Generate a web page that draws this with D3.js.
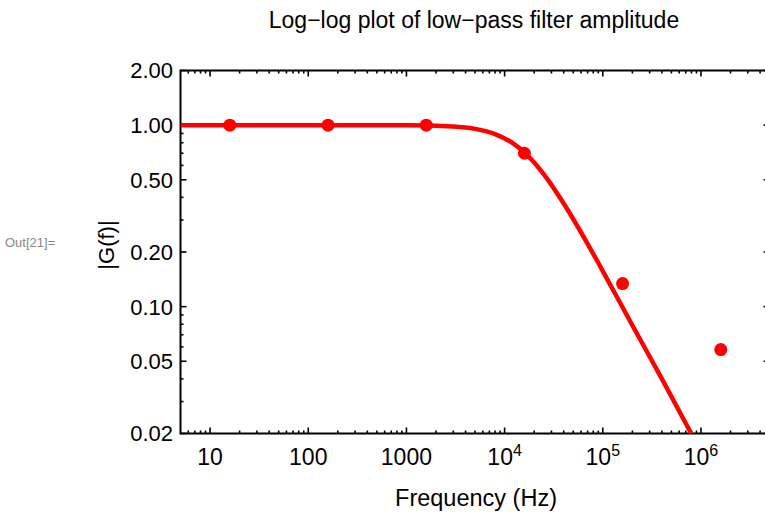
<!DOCTYPE html>
<html>
<head>
<meta charset="utf-8">
<script src="https://cdn.jsdelivr.net/npm/d3@7"></script>
<style>
  body { margin: 0; background: #fff; }
  svg { display: block; font-family: "Liberation Sans", Arial, sans-serif; }
</style>
</head>
<body>
<svg width="765" height="515"></svg>
<script>
// measured points (frequency in Hz, |G|)
var pointFreq = [15.9, 159, 1592, 15915, 159155, 1591549];
var pointGain = [1.0, 1.0, 1.0, 0.70, 0.134, 0.058];

// fitted curve
var curveFreq = [5, 1000, 3000, 5000, 8000, 12000, 16000, 25000, 40000, 70000, 100000, 200000, 400000, 800000];
var curveGain = [1.0, 0.998, 0.983, 0.954, 0.893, 0.798, 0.705, 0.537, 0.370, 0.222, 0.157, 0.079, 0.040, 0.0199];

var xTicks = [10, 100, 1000, 1e4, 1e5, 1e6];
var yTicks = [0.02, 0.05, 0.1, 0.2, 0.5, 1, 2];
var yTickLabels = ['0.02', '0.05', '0.10', '0.20', '0.50', '1.00', '2.00'];

var svg = d3.select('svg');
var pLeft = 180.5, pRight = 769.6, pTop = 70.5, pBottom = 433.5;

var x = d3.scaleLog().domain([5, 5e6]).range([pLeft, pRight]);
var y = d3.scaleLog().domain([0.02, 2]).range([pBottom, pTop]);

// minor tick values
var xMinor = [];
for (var e = 0; e <= 6; e++) {
  for (var m = 2; m <= 9; m++) {
    var v = m * Math.pow(10, e);
    if (v > 5 && v < 5e6) xMinor.push(v);
  }
}
var yMinor = [];
for (var e2 = -2; e2 <= 0; e2++) {
  for (var m2 = 1; m2 <= 9; m2++) {
    var w = +(m2 * Math.pow(10, e2)).toFixed(6);
    if (w > 0.02 && w < 2 && yTicks.indexOf(w) < 0) yMinor.push(w);
  }
}

svg.append('defs').append('clipPath').attr('id', 'clip')
  .append('rect').attr('x', pLeft).attr('y', pTop).attr('width', pRight - pLeft).attr('height', pBottom - pTop);

// title
svg.append('text')
  .attr('x', 474).attr('y', 28)
  .attr('text-anchor', 'middle')
  .style('font-size', '23px')
  .text('Log\u2212log plot of low\u2212pass filter amplitude');

svg.append('text')
  .attr('x', 5).attr('y', 247)
  .style('font-size', '13px').style('fill', '#888')
  .text('Out[21]=');

// axis labels
svg.append('text')
  .attr('x', 476).attr('y', 506)
  .attr('text-anchor', 'middle')
  .style('font-size', '23.5px')
  .text('Frequency (Hz)');

svg.append('text')
  .attr('transform', 'translate(114,245) rotate(-90)')
  .attr('text-anchor', 'middle')
  .style('font-size', '22px')
  .text('|G(f)|');

// ticks
var ticks = svg.append('g').style('stroke', '#000').style('stroke-width', 1.6);
function hTick(v, len) {
  ticks.append('line').attr('x1', x(v)).attr('x2', x(v)).attr('y1', pBottom).attr('y2', pBottom - len);
  ticks.append('line').attr('x1', x(v)).attr('x2', x(v)).attr('y1', pTop).attr('y2', pTop + len);
}
function vTick(v, len) {
  ticks.append('line').attr('y1', y(v)).attr('y2', y(v)).attr('x1', pLeft).attr('x2', pLeft + len);
  ticks.append('line').attr('y1', y(v)).attr('y2', y(v)).attr('x1', pRight).attr('x2', pRight - len);
}
xTicks.forEach(function (d) { hTick(d, 6); });
xMinor.forEach(function (d) { hTick(d, 3); });
yTicks.forEach(function (d) { vTick(d, 6); });
yMinor.forEach(function (d) { vTick(d, 3); });

// x tick labels
var xl = svg.append('g').style('font-size', '23px').attr('text-anchor', 'middle');
xTicks.forEach(function (d) {
  var ex = Math.round(Math.log10(d));
  var t = xl.append('text').attr('x', x(d)).attr('y', 465);
  if (ex <= 3) {
    t.text(String(d));
  } else {
    t.append('tspan').text('10');
    t.append('tspan').attr('dy', -9).style('font-size', '16px').text(String(ex));
  }
});

// y tick labels
svg.append('g').style('font-size', '22px').attr('text-anchor', 'end')
  .selectAll('text').data(yTicks).enter().append('text')
  .attr('x', 173).attr('y', function (d) { return y(d); })
  .attr('dy', '0.36em')
  .text(function (d, i) { return yTickLabels[i]; });

// frame
svg.append('rect')
  .attr('x', pLeft).attr('y', pTop).attr('width', pRight - pLeft).attr('height', pBottom - pTop)
  .style('fill', 'none').style('stroke', '#000').style('stroke-width', 2);

// curve
var line = d3.line()
  .x(function (d) { return x(d[0]); })
  .y(function (d) { return y(d[1]); })
  .curve(d3.curveMonotoneX);

svg.append('path')
  .datum(d3.zip(curveFreq, curveGain))
  .attr('clip-path', 'url(#clip)')
  .attr('d', line)
  .style('fill', 'none').style('stroke', '#ff0000').style('stroke-width', 4.5);

svg.append('g').selectAll('circle')
  .data(d3.zip(pointFreq, pointGain)).enter().append('circle')
  .attr('cx', function (d) { return x(d[0]); })
  .attr('cy', function (d) { return y(d[1]); })
  .attr('r', 6.5)
  .style('fill', '#ff0000');
</script>
</body>
</html>
